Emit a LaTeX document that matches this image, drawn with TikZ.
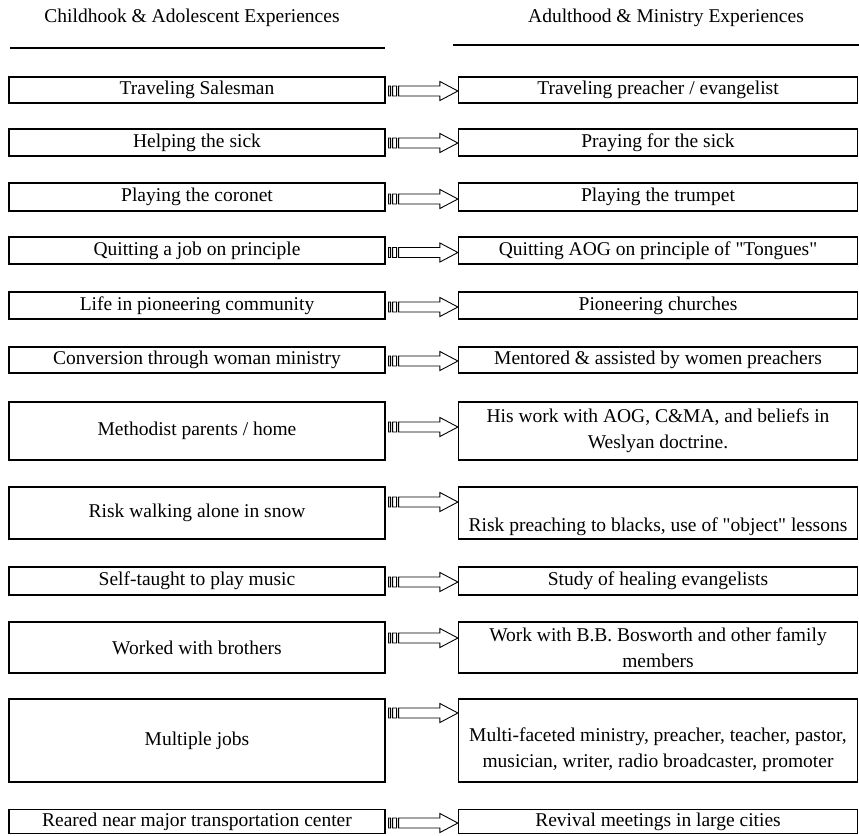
\documentclass[tikz,border=0pt]{standalone}
\usepackage{fontspec}
\setmainfont{Liberation Serif}
\usetikzlibrary{calc}

% striped block arrow from the east side of #1 to the west side of #2, at the height of #3
\newcommand\stripearrow[3]{%
  \draw[striped] let \p1=(#1.east |- #3), \p2=(#2.west |- #3) in
    (\x1+3pt,\y1-5pt) rectangle (\x1+5pt,\y1+5pt)
    (\x1+7pt,\y1-5pt) rectangle (\x1+11pt,\y1+5pt)
    (\x1+13pt,\y1-5pt) -- (\x2-18pt,\y1-5pt) -- (\x2-18pt,\y1-9.5pt) -- (\x2,\y1)
      -- (\x2-18pt,\y1+9.5pt) -- (\x2-18pt,\y1+5pt) -- (\x1+13pt,\y1+5pt) -- cycle;
}

\begin{document}
\begin{tikzpicture}[x=1pt, y=-1pt,
                        every node/.style={font=\fontsize{19.5}{26}\selectfont, inner sep=0pt},
                        lbox/.style={draw, line width=1.2pt, minimum width=376pt},
                        rbox/.style={draw, line width=1.2pt, minimum width=399pt, align=center},
                        striped/.style={draw=black, line width=0.9pt, fill=white},
                        rule/.style={line width=2.6pt}]
                        \useasboundingbox (0,0) rectangle (859,835);

                        % Headings
                        \node[anchor=base] (hL) at (192,23) {Childhook \& Adolescent Experiences};
                        \node[anchor=base] (hR) at (666,23) {Adulthood \& Ministry Experiences};
                        \draw[rule] (10,48) -- (385,48);
                        \draw[rule] (453,45) -- (859,45);

                        % Define nodes, left column
                        \node[lbox, minimum height=26pt] (L1) at (197,90) {Traveling Salesman};
                        \node[lbox, minimum height=27pt] (L2) at (197,142.5) {Helping the sick};
                        \node[lbox, minimum height=28pt] (L3) at (197,197) {Playing the coronet};
                        \node[lbox, minimum height=27pt] (L4) at (197,250.5) {Quitting a job on principle};
                        \node[lbox, minimum height=27pt] (L5) at (197,305.5) {Life in pioneering community};
                        \node[lbox, minimum height=26pt] (L6) at (197,360) {Conversion through woman ministry};
                        \node[lbox, minimum height=58pt] (L7) at (197,431) {Methodist parents / home};
                        \node[lbox, minimum height=52pt] (L8) at (197,513) {Risk walking alone in snow};
                        \node[lbox, minimum height=28pt] (L9) at (197,581) {Self-taught to play music};
                        \node[lbox, minimum height=51pt] (L10) at (197,647.5) {Worked with brothers};
                        \node[lbox, minimum height=83pt] (L11) at (197,740.5) {Multiple jobs};
                        \node[lbox, minimum height=24pt] (L12) at (197,821.5) {Reared near major transportation center};

                        % Define nodes, right column
                        \node[rbox, minimum height=26pt] (R1) at (658,90) {Traveling preacher / evangelist};
                        \node[rbox, minimum height=27pt] (R2) at (658,142.5) {Praying for the sick};
                        \node[rbox, minimum height=28pt] (R3) at (658,197) {Playing the trumpet};
                        \node[rbox, minimum height=27pt] (R4) at (658,250.5) {Quitting AOG on principle of \textquotedbl Tongues\textquotedbl};
                        \node[rbox, minimum height=27pt] (R5) at (658,305.5) {Pioneering churches};
                        \node[rbox, minimum height=26pt] (R6) at (658,360) {Mentored \& assisted by women preachers};
                        \node[rbox, minimum height=58pt] (R7) at (658,431) {His work with AOG, C\&MA, and beliefs in\\Weslyan doctrine.};
                        \node[rbox, minimum height=52pt] (R8) at (658,513) {};
                        \node (R8t) at (658,527) {Risk preaching to blacks, use of \textquotedbl object\textquotedbl{} lessons};
                        \node[rbox, minimum height=28pt] (R9) at (658,581) {Study of healing evangelists};
                        \node[rbox, minimum height=51pt] (R10) at (658,647.5) {Work with B.B. Bosworth and other family\\members};
                        \node[rbox, minimum height=83pt] (R11) at (658,740.5) {};
                        \node[align=center] (R11t) at (658,749.5) {Multi-faceted ministry, preacher, teacher, pastor,\\musician, writer, radio broadcaster, promoter};
                        \node[rbox, minimum height=24pt] (R12) at (658,821.5) {Revival meetings in large cities};

                        % Define edges
                        \foreach \i/\ay in {1/91, 2/143, 3/199, 4/252.5, 5/307, 6/361, 7/427, 8/502, 9/582, 10/638, 11/713, 12/823}{
                          \coordinate (h\i) at (422,\ay);
                          \stripearrow{L\i}{R\i}{h\i}
                        }
                        \end{tikzpicture}
\end{document}
